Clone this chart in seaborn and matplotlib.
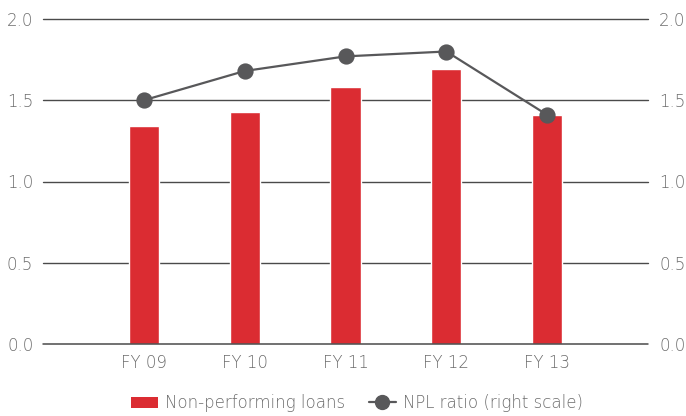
import matplotlib
matplotlib.use("Agg")
import matplotlib.pyplot as plt
import seaborn as sns
import pandas as pd
from matplotlib.patches import Patch
from matplotlib.lines import Line2D

# Fiscal years and values
years = ["FY 09", "FY 10", "FY 11", "FY 12", "FY 13"]
npl_loans = [1.34, 1.43, 1.58, 1.69, 1.41]
npl_ratio = [1.50, 1.68, 1.77, 1.80, 1.41]
y_ticks = [0.0, 0.5, 1.0, 1.5, 2.0]
y_labels = ["0.0", "0.5", "1.0", "1.5", "2.0"]

sns.set_theme(style="white")
plt.rcParams["font.family"] = ["DejaVu Sans"]
plt.rcParams["font.weight"] = 200

RED = "#db2c32"
DARK = "#58585a"
TEXT = "#6c6c6c"
GRID = "#4a4a4a"
FS = 12

df = pd.DataFrame({"year": years, "loans": npl_loans, "ratio": npl_ratio})

fig = plt.figure(figsize=(6.86, 4.16), dpi=100)
ax = fig.add_axes([43 / 686, 1 - 344 / 416, (648 - 43) / 686, (344 - 19) / 416])

sns.barplot(data=df, x="year", y="loans", color=RED, width=0.3,
            saturation=1, ax=ax, zorder=3)

ax2 = ax.twinx()
sns.pointplot(data=df, x="year", y="ratio", color=DARK, markers="o",
              markersize=10.5, linewidth=1.6, ax=ax2, zorder=4)

for a in (ax, ax2):
    a.set_ylim(0, 2.0)
    a.set_xlim(-1.0, 5.0)
    a.set_yticks(y_ticks)
    a.set_yticklabels(y_labels)
    a.set_xlabel("")
    a.set_ylabel("")
    for s in a.spines.values():
        s.set_visible(False)
    a.tick_params(axis="both", length=0, colors=TEXT, labelsize=FS)

ax.tick_params(axis="y", pad=7)
ax2.tick_params(axis="y", pad=8)
ax.tick_params(axis="x", pad=7)
ax.set_xticks(range(len(years)))
ax.set_xticklabels(years)
ax2.grid(False)
ax.grid(False)
for t in y_ticks:
    ax.axhline(t, color=GRID, linewidth=1.1 if t == 0 else 1.0,
               zorder=1 if t else 4, clip_on=False)

handles = [
    Patch(facecolor=RED, edgecolor="none"),
    Line2D([0], [0], color=DARK, linewidth=1.6, marker="o", markersize=10),
]
fig.legend(handles, ["Non-performing loans", "NPL ratio (right scale)"],
           loc="center", bbox_to_anchor=(357 / 686, 1 - 403 / 416), ncol=2,
           frameon=False, fontsize=FS, labelcolor=TEXT, handlelength=1.6,
           handleheight=0.66, columnspacing=1.45, handletextpad=0.42)

fig.savefig("out.png", dpi=100)
